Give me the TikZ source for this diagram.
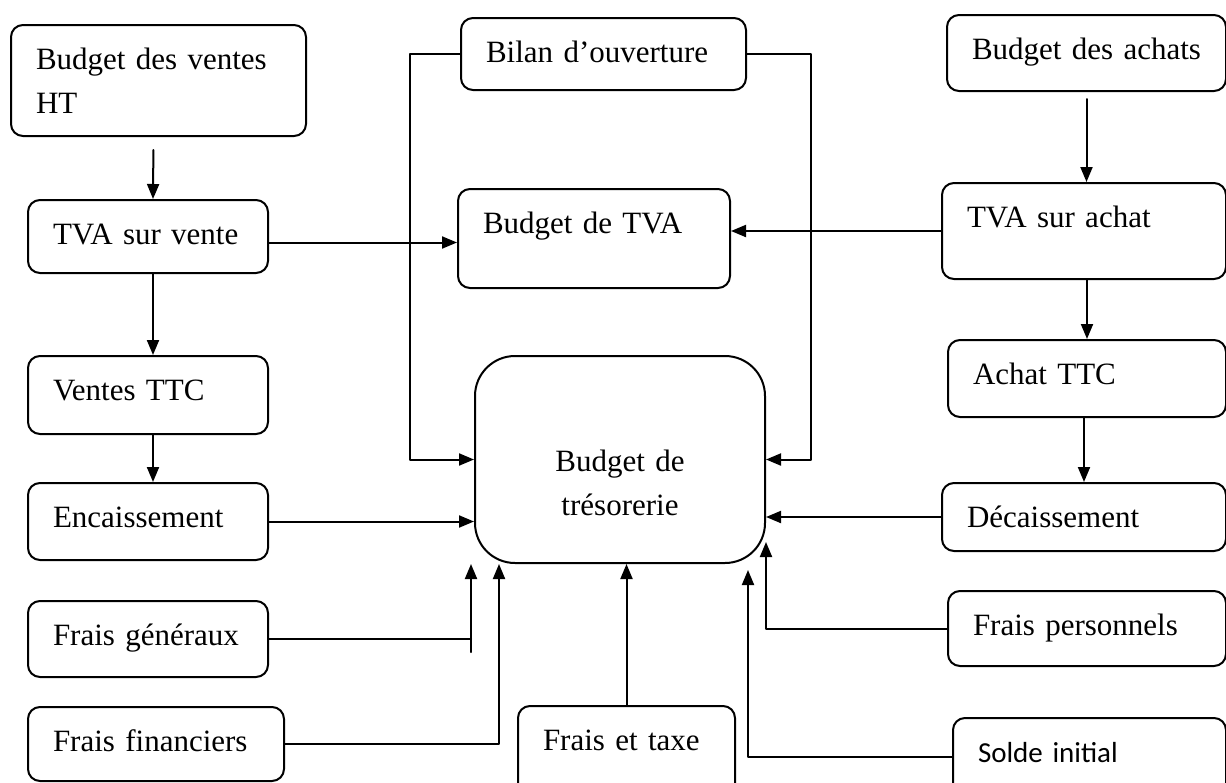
\documentclass[tikz,border=0pt]{standalone}
\usepackage{fontspec}
\setmainfont{Liberation Serif}
\newfontfamily\soldefont{Carlito}
\usetikzlibrary{arrows.meta}

\begin{document}
\begin{tikzpicture}[x=1pt, y=-1pt, line width=2pt, line join=round, line cap=round, >={Triangle[length=15pt,width=12pt]},
			box/.style={draw, rounded corners=12pt, anchor=north west, inner xsep=25pt, inner ysep=0pt,
				text height=44pt, font=\fontsize{31}{44}\selectfont}
			]
			\useasboundingbox (0,0) rectangle (1226,782);
			\node[box, text width=245pt, text depth=67pt] (vht) at (10,24) {Budget des ventes\\HT};
			\node[box, text width=190pt, text depth=29pt] (tvav) at (27,199) {TVA sur vente};
			\node[box, text width=190pt, text depth=34pt] (vttc) at (27,355) {Ventes TTC};
			\node[box, text width=190pt, text depth=33pt] (enc) at (27,482) {Encaissement};
			\node[box, text width=190pt, text depth=32pt] (fgen) at (27,600) {Frais généraux};
			\node[box, text width=206pt, text depth=30pt] (ffin) at (27,706) {Frais financiers};
			\node[box, text width=235pt, text depth=28pt] (bilan) at (460,17) {Bilan d’ouverture};
			\node[box, text width=222pt, text depth=55pt] (btva) at (457,188) {Budget de TVA};
			\node[box, rounded corners=40pt, align=center, text width=240pt, text height=115pt, text depth=92pt] (treso) at (474,355) {Budget de\\trésorerie};
			\node[box, text width=167pt, text depth=51pt] (ftaxe) at (517,705) {Frais et taxe};
			\node[box, text width=229pt, text depth=32pt] (bach) at (946,14) {Budget des achats};
			\node[box, text width=234pt, text depth=52pt] (tvaa) at (941,182) {TVA sur achat};
			\node[box, text width=228pt, text depth=33pt] (attc) at (947,339) {Achat TTC};
			\node[box, text width=234pt, text depth=24pt] (dec) at (941,482) {Décaissement};
			\node[box, text width=228pt, text depth=31pt] (fpers) at (947,590) {Frais personnels};
			\node[box, text width=223pt, text depth=33pt, font=\soldefont\fontsize{29}{35}\selectfont] (solde) at (952,717) {Solde initial};
			\coordinate (tv) at ([yshift=-6pt]tvav.east);
			\coordinate (fg) at (471,652);
			\draw[->, shorten <=13pt] ([xshift=-5pt]vht.south) -- ([xshift=5pt]tvav.north);
			\foreach \a/\b in {tvav/vttc, vttc/enc}
			\draw[->] ([xshift=5pt]\a.south) -- ([xshift=5pt]\b.north);
			\draw[->, shorten <=7pt] (bach.south) -- (bach.south |- tvaa.north);
			\foreach \a/\b in {tvaa/attc, attc/dec}
			\draw[->] (\b.north |- \a.south) -- (\b.north);
			\draw[->] (tv) -- (tv -| btva.west);
			\draw[->] (tvaa.west) -- (tvaa.west -| btva.east);
			\draw[->] (bilan.west) -- ++(-50,0) |- (treso.west);
			\draw[->] (bilan.east) -- ++(64,0) |- (treso.east);
			\draw[->] (enc.east) -- (enc.east -| treso.west);
			\draw[->] (dec.west) -- (dec.west -| treso.east);
			\draw (fgen.east) -- (fgen.east -| fg);
			\draw[->] (fg) -- (fg |- treso.south);
			\draw[->] (ffin.east) -| ([xshift=25pt]treso.south west);
			\draw[->] (ftaxe.north) -- (ftaxe.north |- treso.south);
			\draw[->] (fpers.west) -| ([yshift=22pt]treso.south east);
			\draw[->, shorten >=6pt] (solde.west) -| ([xshift=-18pt]treso.south east);
	\end{tikzpicture}
\end{document}
